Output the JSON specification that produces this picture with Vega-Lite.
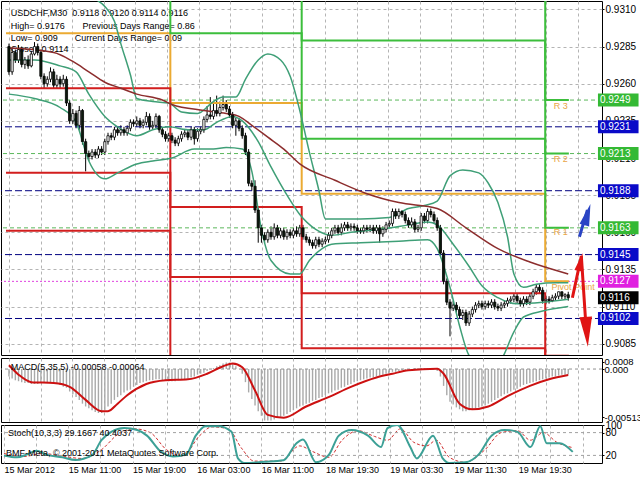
{
"$schema":"https://vega.github.io/schema/vega-lite/v6.json",
"background":"#ffffff",
"padding":0,
"spacing":3,
"bounds":"flush",
"config":{"font":"Liberation Sans","view":{"stroke":"#000000","strokeWidth":1},"axis":{"labelFont":"Liberation Sans","labelColor":"#000000","domain":false,"gridColor":"#b4b4b4","gridDash":[3,3],"tickColor":"#000000","labelOverlap":false,"labelFlush":false}},
"datasets":{
"candles":[
{"i":0,"o":0.9285,"h":0.9287,"l":0.9266,"c":0.9268,"m":-0.0008},
{"i":1,"o":0.9268,"h":0.9284,"l":0.9266,"c":0.9281,"m":-0.0010},
{"i":2,"o":0.9281,"h":0.9283,"l":0.9274,"c":0.9276,"m":-0.0012},
{"i":3,"o":0.9276,"h":0.9286,"l":0.9274,"c":0.9283,"m":-0.0013},
{"i":4,"o":0.9283,"h":0.9285,"l":0.9271,"c":0.9273,"m":-0.0014},
{"i":5,"o":0.9273,"h":0.9278,"l":0.9270,"c":0.9276,"m":-0.0015},
{"i":6,"o":0.9276,"h":0.9279,"l":0.9270,"c":0.9272,"m":-0.0015},
{"i":7,"o":0.9272,"h":0.9282,"l":0.9271,"c":0.9280,"m":-0.0016},
{"i":8,"o":0.9280,"h":0.9288,"l":0.9279,"c":0.9285,"m":-0.0016},
{"i":9,"o":0.9285,"h":0.9287,"l":0.9279,"c":0.9281,"m":-0.0016},
{"i":10,"o":0.9281,"h":0.9283,"l":0.9263,"c":0.9265,"m":-0.0015},
{"i":11,"o":0.9265,"h":0.9267,"l":0.9257,"c":0.9260,"m":-0.0015},
{"i":12,"o":0.9260,"h":0.9265,"l":0.9258,"c":0.9263,"m":-0.0015},
{"i":13,"o":0.9263,"h":0.9271,"l":0.9261,"c":0.9268,"m":-0.0014},
{"i":14,"o":0.9268,"h":0.9270,"l":0.9257,"c":0.9259,"m":-0.0014},
{"i":15,"o":0.9259,"h":0.9266,"l":0.9257,"c":0.9263,"m":-0.0015},
{"i":16,"o":0.9263,"h":0.9265,"l":0.9257,"c":0.9260,"m":-0.0017},
{"i":17,"o":0.9260,"h":0.9266,"l":0.9258,"c":0.9263,"m":-0.0019},
{"i":18,"o":0.9263,"h":0.9265,"l":0.9245,"c":0.9247,"m":-0.0020},
{"i":19,"o":0.9247,"h":0.9249,"l":0.9233,"c":0.9235,"m":-0.0024},
{"i":20,"o":0.9235,"h":0.9243,"l":0.9233,"c":0.9240,"m":-0.0027},
{"i":21,"o":0.9240,"h":0.9242,"l":0.9230,"c":0.9232,"m":-0.0030},
{"i":22,"o":0.9232,"h":0.9245,"l":0.9229,"c":0.9242,"m":-0.0033},
{"i":23,"o":0.9242,"h":0.9243,"l":0.9219,"c":0.9221,"m":-0.0037},
{"i":24,"o":0.9221,"h":0.9223,"l":0.9201,"c":0.9213,"m":-0.0040},
{"i":25,"o":0.9213,"h":0.9215,"l":0.9208,"c":0.9211,"m":-0.0042},
{"i":26,"o":0.9211,"h":0.9216,"l":0.9209,"c":0.9214,"m":-0.0044},
{"i":27,"o":0.9214,"h":0.9216,"l":0.9210,"c":0.9212,"m":-0.0046},
{"i":28,"o":0.9212,"h":0.9218,"l":0.9210,"c":0.9216,"m":-0.0047},
{"i":29,"o":0.9216,"h":0.9218,"l":0.9212,"c":0.9214,"m":-0.0047},
{"i":30,"o":0.9214,"h":0.9223,"l":0.9212,"c":0.9221,"m":-0.0044},
{"i":31,"o":0.9221,"h":0.9227,"l":0.9219,"c":0.9225,"m":-0.0040},
{"i":32,"o":0.9225,"h":0.9227,"l":0.9222,"c":0.9224,"m":-0.0037},
{"i":33,"o":0.9224,"h":0.9231,"l":0.9222,"c":0.9229,"m":-0.0033},
{"i":34,"o":0.9229,"h":0.9231,"l":0.9225,"c":0.9227,"m":-0.0030},
{"i":35,"o":0.9227,"h":0.9232,"l":0.9225,"c":0.9229,"m":-0.0028},
{"i":36,"o":0.9229,"h":0.9231,"l":0.9225,"c":0.9227,"m":-0.0025},
{"i":37,"o":0.9227,"h":0.9232,"l":0.9225,"c":0.9230,"m":-0.0023},
{"i":38,"o":0.9230,"h":0.9236,"l":0.9228,"c":0.9234,"m":-0.0022},
{"i":39,"o":0.9234,"h":0.9236,"l":0.9231,"c":0.9233,"m":-0.0019},
{"i":40,"o":0.9233,"h":0.9238,"l":0.9231,"c":0.9235,"m":-0.0017},
{"i":41,"o":0.9235,"h":0.9237,"l":0.9230,"c":0.9232,"m":-0.0015},
{"i":42,"o":0.9232,"h":0.9236,"l":0.9230,"c":0.9234,"m":-0.0014},
{"i":43,"o":0.9234,"h":0.9241,"l":0.9232,"c":0.9238,"m":-0.0013},
{"i":44,"o":0.9238,"h":0.9240,"l":0.9229,"c":0.9231,"m":-0.0012},
{"i":45,"o":0.9231,"h":0.9235,"l":0.9229,"c":0.9232,"m":-0.0012},
{"i":46,"o":0.9232,"h":0.9240,"l":0.9230,"c":0.9238,"m":-0.0011},
{"i":47,"o":0.9238,"h":0.9239,"l":0.9227,"c":0.9229,"m":-0.0011},
{"i":48,"o":0.9229,"h":0.9231,"l":0.9224,"c":0.9226,"m":-0.0012},
{"i":49,"o":0.9226,"h":0.9228,"l":0.9221,"c":0.9223,"m":-0.0012},
{"i":50,"o":0.9223,"h":0.9227,"l":0.9221,"c":0.9225,"m":-0.0013},
{"i":51,"o":0.9225,"h":0.9227,"l":0.9220,"c":0.9222,"m":-0.0013},
{"i":52,"o":0.9222,"h":0.9224,"l":0.9218,"c":0.9220,"m":-0.0013},
{"i":53,"o":0.9220,"h":0.9225,"l":0.9218,"c":0.9223,"m":-0.0012},
{"i":54,"o":0.9223,"h":0.9228,"l":0.9221,"c":0.9226,"m":-0.0011},
{"i":55,"o":0.9226,"h":0.9229,"l":0.9224,"c":0.9227,"m":-0.0011},
{"i":56,"o":0.9227,"h":0.9229,"l":0.9222,"c":0.9224,"m":-0.0010},
{"i":57,"o":0.9224,"h":0.9231,"l":0.9222,"c":0.9229,"m":-0.0009},
{"i":58,"o":0.9229,"h":0.9231,"l":0.9219,"c":0.9223,"m":-0.0008},
{"i":59,"o":0.9223,"h":0.9230,"l":0.9221,"c":0.9228,"m":-0.0006},
{"i":60,"o":0.9228,"h":0.9231,"l":0.9226,"c":0.9229,"m":-0.0005},
{"i":61,"o":0.9229,"h":0.9238,"l":0.9227,"c":0.9236,"m":-0.0004},
{"i":62,"o":0.9236,"h":0.9245,"l":0.9234,"c":0.9239,"m":-0.0002},
{"i":63,"o":0.9239,"h":0.9251,"l":0.9236,"c":0.9238,"m":0.0000},
{"i":64,"o":0.9238,"h":0.9247,"l":0.9236,"c":0.9242,"m":0.0001},
{"i":65,"o":0.9242,"h":0.9252,"l":0.9238,"c":0.9240,"m":0.0003},
{"i":66,"o":0.9240,"h":0.9248,"l":0.9238,"c":0.9244,"m":0.0004},
{"i":67,"o":0.9244,"h":0.9252,"l":0.9242,"c":0.9246,"m":0.0006},
{"i":68,"o":0.9246,"h":0.9249,"l":0.9241,"c":0.9243,"m":0.0007},
{"i":69,"o":0.9243,"h":0.9245,"l":0.9237,"c":0.9239,"m":0.0007},
{"i":70,"o":0.9239,"h":0.9241,"l":0.9230,"c":0.9232,"m":0.0006},
{"i":71,"o":0.9232,"h":0.9237,"l":0.9225,"c":0.9235,"m":0.0003},
{"i":72,"o":0.9235,"h":0.9237,"l":0.9228,"c":0.9230,"m":0.0000},
{"i":73,"o":0.9230,"h":0.9232,"l":0.9223,"c":0.9225,"m":-0.0005},
{"i":74,"o":0.9225,"h":0.9227,"l":0.9212,"c":0.9214,"m":-0.0014},
{"i":75,"o":0.9214,"h":0.9216,"l":0.9191,"c":0.9193,"m":-0.0025},
{"i":76,"o":0.9193,"h":0.9195,"l":0.9188,"c":0.9191,"m":-0.0032},
{"i":77,"o":0.9191,"h":0.9195,"l":0.9173,"c":0.9175,"m":-0.0039},
{"i":78,"o":0.9175,"h":0.9177,"l":0.9153,"c":0.9163,"m":-0.0045},
{"i":79,"o":0.9163,"h":0.9165,"l":0.9153,"c":0.9158,"m":-0.0050},
{"i":80,"o":0.9158,"h":0.9160,"l":0.9153,"c":0.9155,"m":-0.0055},
{"i":81,"o":0.9155,"h":0.9162,"l":0.9153,"c":0.9160,"m":-0.0055},
{"i":82,"o":0.9160,"h":0.9164,"l":0.9155,"c":0.9157,"m":-0.0055},
{"i":83,"o":0.9157,"h":0.9166,"l":0.9155,"c":0.9163,"m":-0.0054},
{"i":84,"o":0.9163,"h":0.9165,"l":0.9156,"c":0.9158,"m":-0.0052},
{"i":85,"o":0.9158,"h":0.9163,"l":0.9156,"c":0.9161,"m":-0.0051},
{"i":86,"o":0.9161,"h":0.9163,"l":0.9155,"c":0.9157,"m":-0.0050},
{"i":87,"o":0.9157,"h":0.9162,"l":0.9155,"c":0.9160,"m":-0.0048},
{"i":88,"o":0.9160,"h":0.9162,"l":0.9156,"c":0.9158,"m":-0.0046},
{"i":89,"o":0.9158,"h":0.9163,"l":0.9156,"c":0.9161,"m":-0.0044},
{"i":90,"o":0.9161,"h":0.9164,"l":0.9157,"c":0.9159,"m":-0.0042},
{"i":91,"o":0.9159,"h":0.9165,"l":0.9157,"c":0.9163,"m":-0.0040},
{"i":92,"o":0.9163,"h":0.9165,"l":0.9155,"c":0.9157,"m":-0.0039},
{"i":93,"o":0.9157,"h":0.9159,"l":0.9153,"c":0.9155,"m":-0.0037},
{"i":94,"o":0.9155,"h":0.9157,"l":0.9151,"c":0.9153,"m":-0.0036},
{"i":95,"o":0.9153,"h":0.9155,"l":0.9149,"c":0.9151,"m":-0.0034},
{"i":96,"o":0.9151,"h":0.9157,"l":0.9149,"c":0.9155,"m":-0.0033},
{"i":97,"o":0.9155,"h":0.9157,"l":0.9150,"c":0.9152,"m":-0.0031},
{"i":98,"o":0.9152,"h":0.9156,"l":0.9150,"c":0.9154,"m":-0.0030},
{"i":99,"o":0.9154,"h":0.9157,"l":0.9152,"c":0.9155,"m":-0.0028},
{"i":100,"o":0.9155,"h":0.9160,"l":0.9153,"c":0.9158,"m":-0.0026},
{"i":101,"o":0.9158,"h":0.9163,"l":0.9156,"c":0.9161,"m":-0.0025},
{"i":102,"o":0.9161,"h":0.9165,"l":0.9159,"c":0.9163,"m":-0.0023},
{"i":103,"o":0.9163,"h":0.9165,"l":0.9158,"c":0.9160,"m":-0.0022},
{"i":104,"o":0.9160,"h":0.9166,"l":0.9158,"c":0.9163,"m":-0.0020},
{"i":105,"o":0.9163,"h":0.9167,"l":0.9161,"c":0.9165,"m":-0.0019},
{"i":106,"o":0.9165,"h":0.9167,"l":0.9161,"c":0.9163,"m":-0.0017},
{"i":107,"o":0.9163,"h":0.9166,"l":0.9161,"c":0.9164,"m":-0.0016},
{"i":108,"o":0.9164,"h":0.9166,"l":0.9161,"c":0.9163,"m":-0.0014},
{"i":109,"o":0.9163,"h":0.9165,"l":0.9159,"c":0.9161,"m":-0.0013},
{"i":110,"o":0.9161,"h":0.9163,"l":0.9159,"c":0.9161,"m":-0.0012},
{"i":111,"o":0.9161,"h":0.9165,"l":0.9159,"c":0.9163,"m":-0.0011},
{"i":112,"o":0.9163,"h":0.9165,"l":0.9160,"c":0.9162,"m":-0.0010},
{"i":113,"o":0.9162,"h":0.9165,"l":0.9160,"c":0.9163,"m":-0.0009},
{"i":114,"o":0.9163,"h":0.9165,"l":0.9159,"c":0.9161,"m":-0.0009},
{"i":115,"o":0.9161,"h":0.9165,"l":0.9159,"c":0.9163,"m":-0.0008},
{"i":116,"o":0.9163,"h":0.9165,"l":0.9153,"c":0.9159,"m":-0.0007},
{"i":117,"o":0.9159,"h":0.9164,"l":0.9157,"c":0.9162,"m":-0.0006},
{"i":118,"o":0.9162,"h":0.9167,"l":0.9160,"c":0.9165,"m":-0.0005},
{"i":119,"o":0.9165,"h":0.9168,"l":0.9163,"c":0.9166,"m":-0.0004},
{"i":120,"o":0.9166,"h":0.9176,"l":0.9164,"c":0.9174,"m":-0.0003},
{"i":121,"o":0.9174,"h":0.9176,"l":0.9169,"c":0.9171,"m":-0.0003},
{"i":122,"o":0.9171,"h":0.9176,"l":0.9169,"c":0.9174,"m":-0.0002},
{"i":123,"o":0.9174,"h":0.9175,"l":0.9170,"c":0.9172,"m":-0.0001},
{"i":124,"o":0.9172,"h":0.9174,"l":0.9166,"c":0.9168,"m":-0.0001},
{"i":125,"o":0.9168,"h":0.9170,"l":0.9163,"c":0.9165,"m":0.0000},
{"i":126,"o":0.9165,"h":0.9170,"l":0.9163,"c":0.9167,"m":0.0000},
{"i":127,"o":0.9167,"h":0.9169,"l":0.9160,"c":0.9162,"m":0.0001},
{"i":128,"o":0.9162,"h":0.9165,"l":0.9160,"c":0.9163,"m":0.0001},
{"i":129,"o":0.9163,"h":0.9173,"l":0.9161,"c":0.9171,"m":0.0001},
{"i":130,"o":0.9171,"h":0.9173,"l":0.9166,"c":0.9168,"m":0.0001},
{"i":131,"o":0.9168,"h":0.9176,"l":0.9166,"c":0.9174,"m":0.0001},
{"i":132,"o":0.9174,"h":0.9176,"l":0.9170,"c":0.9172,"m":0.0001},
{"i":133,"o":0.9172,"h":0.9174,"l":0.9166,"c":0.9168,"m":0.0001},
{"i":134,"o":0.9168,"h":0.9170,"l":0.9161,"c":0.9163,"m":-0.0002},
{"i":135,"o":0.9163,"h":0.9165,"l":0.9144,"c":0.9146,"m":-0.0008},
{"i":136,"o":0.9146,"h":0.9148,"l":0.9125,"c":0.9127,"m":-0.0018},
{"i":137,"o":0.9127,"h":0.9129,"l":0.9111,"c":0.9113,"m":-0.0028},
{"i":138,"o":0.9113,"h":0.9115,"l":0.9090,"c":0.9109,"m":-0.0035},
{"i":139,"o":0.9109,"h":0.9114,"l":0.9107,"c":0.9111,"m":-0.0038},
{"i":140,"o":0.9111,"h":0.9113,"l":0.9106,"c":0.9108,"m":-0.0041},
{"i":141,"o":0.9108,"h":0.9110,"l":0.9102,"c":0.9104,"m":-0.0043},
{"i":142,"o":0.9104,"h":0.9108,"l":0.9101,"c":0.9106,"m":-0.0045},
{"i":143,"o":0.9106,"h":0.9108,"l":0.9097,"c":0.9099,"m":-0.0045},
{"i":144,"o":0.9099,"h":0.9107,"l":0.9097,"c":0.9105,"m":-0.0044},
{"i":145,"o":0.9105,"h":0.9110,"l":0.9103,"c":0.9108,"m":-0.0043},
{"i":146,"o":0.9108,"h":0.9113,"l":0.9106,"c":0.9111,"m":-0.0042},
{"i":147,"o":0.9111,"h":0.9114,"l":0.9109,"c":0.9112,"m":-0.0041},
{"i":148,"o":0.9112,"h":0.9114,"l":0.9108,"c":0.9110,"m":-0.0040},
{"i":149,"o":0.9110,"h":0.9114,"l":0.9108,"c":0.9112,"m":-0.0039},
{"i":150,"o":0.9112,"h":0.9114,"l":0.9109,"c":0.9111,"m":-0.0037},
{"i":151,"o":0.9111,"h":0.9115,"l":0.9109,"c":0.9113,"m":-0.0035},
{"i":152,"o":0.9113,"h":0.9115,"l":0.9108,"c":0.9110,"m":-0.0033},
{"i":153,"o":0.9110,"h":0.9112,"l":0.9107,"c":0.9109,"m":-0.0031},
{"i":154,"o":0.9109,"h":0.9113,"l":0.9107,"c":0.9111,"m":-0.0029},
{"i":155,"o":0.9111,"h":0.9114,"l":0.9109,"c":0.9112,"m":-0.0027},
{"i":156,"o":0.9112,"h":0.9116,"l":0.9110,"c":0.9114,"m":-0.0026},
{"i":157,"o":0.9114,"h":0.9117,"l":0.9112,"c":0.9115,"m":-0.0024},
{"i":158,"o":0.9115,"h":0.9119,"l":0.9113,"c":0.9117,"m":-0.0022},
{"i":159,"o":0.9117,"h":0.9119,"l":0.9112,"c":0.9114,"m":-0.0021},
{"i":160,"o":0.9114,"h":0.9116,"l":0.9110,"c":0.9112,"m":-0.0019},
{"i":161,"o":0.9112,"h":0.9117,"l":0.9110,"c":0.9115,"m":-0.0017},
{"i":162,"o":0.9115,"h":0.9117,"l":0.9111,"c":0.9113,"m":-0.0016},
{"i":163,"o":0.9113,"h":0.9119,"l":0.9111,"c":0.9117,"m":-0.0015},
{"i":164,"o":0.9117,"h":0.9122,"l":0.9115,"c":0.9120,"m":-0.0014},
{"i":165,"o":0.9120,"h":0.9125,"l":0.9118,"c":0.9123,"m":-0.0013},
{"i":166,"o":0.9123,"h":0.9125,"l":0.9119,"c":0.9121,"m":-0.0012},
{"i":167,"o":0.9121,"h":0.9123,"l":0.9112,"c":0.9114,"m":-0.0011},
{"i":168,"o":0.9114,"h":0.9117,"l":0.9112,"c":0.9115,"m":-0.0010},
{"i":169,"o":0.9115,"h":0.9117,"l":0.9112,"c":0.9114,"m":-0.0009},
{"i":170,"o":0.9114,"h":0.9118,"l":0.9113,"c":0.9116,"m":-0.0008},
{"i":171,"o":0.9116,"h":0.9119,"l":0.9114,"c":0.9117,"m":-0.0008},
{"i":172,"o":0.9117,"h":0.9120,"l":0.9115,"c":0.9120,"m":-0.0007},
{"i":173,"o":0.9120,"h":0.9120,"l":0.9115,"c":0.9117,"m":-0.0006},
{"i":174,"o":0.9117,"h":0.9119,"l":0.9115,"c":0.9118,"m":-0.0006},
{"i":175,"o":0.9118,"h":0.9120,"l":0.9114,"c":0.9116,"m":-0.00058}
],
"bb":[
{"s":"up","i":0,"p":0.9318},{"s":"up","i":10,"p":0.9322},{"s":"up","i":20,"p":0.9322},{"s":"up","i":27,"p":0.9317},{"s":"up","i":30,"p":0.9312},{"s":"up","i":33,"p":0.9302},{"s":"up","i":35,"p":0.9287},{"s":"up","i":38,"p":0.9266},{"s":"up","i":40,"p":0.9250},{"s":"up","i":45,"p":0.9248},{"s":"up","i":50,"p":0.9247},{"s":"up","i":54,"p":0.9241},{"s":"up","i":59,"p":0.9240},{"s":"up","i":64,"p":0.9248},{"s":"up","i":67,"p":0.9251},{"s":"up","i":71,"p":0.9251},{"s":"up","i":74,"p":0.9263},{"s":"up","i":78,"p":0.9276},{"s":"up","i":81,"p":0.9280},{"s":"up","i":85,"p":0.9276},{"s":"up","i":88,"p":0.9265},{"s":"up","i":91,"p":0.9242},{"s":"up","i":94,"p":0.9214},{"s":"up","i":97,"p":0.9188},{"s":"up","i":99,"p":0.9169},{"s":"up","i":104,"p":0.9169},{"s":"up","i":110,"p":0.9169},{"s":"up","i":119,"p":0.9170},{"s":"up","i":125,"p":0.9176},{"s":"up","i":130,"p":0.9178},{"s":"up","i":134,"p":0.9181},{"s":"up","i":138,"p":0.9198},{"s":"up","i":142,"p":0.9202},{"s":"up","i":147,"p":0.9200},{"s":"up","i":150,"p":0.9193},{"s":"up","i":153,"p":0.9180},{"s":"up","i":156,"p":0.9157},{"s":"up","i":158,"p":0.9132},{"s":"up","i":161,"p":0.9123},{"s":"up","i":165,"p":0.9125},{"s":"up","i":171,"p":0.9126},{"s":"up","i":175,"p":0.9126},
{"s":"mid","i":0,"p":0.9276},{"s":"mid","i":8,"p":0.9276},{"s":"mid","i":16,"p":0.9272},{"s":"mid","i":21,"p":0.9268},{"s":"mid","i":25,"p":0.9253},{"s":"mid","i":30,"p":0.9238},{"s":"mid","i":34,"p":0.9231},{"s":"mid","i":40,"p":0.9225},{"s":"mid","i":45,"p":0.9229},{"s":"mid","i":50,"p":0.9231},{"s":"mid","i":56,"p":0.9229},{"s":"mid","i":61,"p":0.9229},{"s":"mid","i":65,"p":0.9234},{"s":"mid","i":70,"p":0.9238},{"s":"mid","i":73,"p":0.9235},{"s":"mid","i":78,"p":0.9221},{"s":"mid","i":82,"p":0.9204},{"s":"mid","i":87,"p":0.9185},{"s":"mid","i":91,"p":0.9172},{"s":"mid","i":96,"p":0.9162},{"s":"mid","i":101,"p":0.9158},{"s":"mid","i":107,"p":0.9160},{"s":"mid","i":116,"p":0.9162},{"s":"mid","i":125,"p":0.9165},{"s":"mid","i":131,"p":0.9167},{"s":"mid","i":134,"p":0.9165},{"s":"mid","i":139,"p":0.9152},{"s":"mid","i":144,"p":0.9137},{"s":"mid","i":148,"p":0.9124},{"s":"mid","i":153,"p":0.9116},{"s":"mid","i":159,"p":0.9112},{"s":"mid","i":167,"p":0.9113},{"s":"mid","i":175,"p":0.9115},
{"s":"lo","i":0,"p":0.9253},{"s":"lo","i":8,"p":0.9250},{"s":"lo","i":16,"p":0.9244},{"s":"lo","i":21,"p":0.9234},{"s":"lo","i":25,"p":0.9208},{"s":"lo","i":30,"p":0.9196},{"s":"lo","i":34,"p":0.9200},{"s":"lo","i":40,"p":0.9206},{"s":"lo","i":45,"p":0.9208},{"s":"lo","i":51,"p":0.9210},{"s":"lo","i":58,"p":0.9216},{"s":"lo","i":64,"p":0.9216},{"s":"lo","i":68,"p":0.9217},{"s":"lo","i":73,"p":0.9216},{"s":"lo","i":76,"p":0.9201},{"s":"lo","i":79,"p":0.9162},{"s":"lo","i":82,"p":0.9141},{"s":"lo","i":88,"p":0.9132},{"s":"lo","i":91,"p":0.9132},{"s":"lo","i":94,"p":0.9141},{"s":"lo","i":98,"p":0.9149},{"s":"lo","i":101,"p":0.9152},{"s":"lo","i":110,"p":0.9153},{"s":"lo","i":122,"p":0.9154},{"s":"lo","i":131,"p":0.9155},{"s":"lo","i":134,"p":0.9149},{"s":"lo","i":138,"p":0.9123},{"s":"lo","i":141,"p":0.9097},{"s":"lo","i":144,"p":0.9077},{"s":"lo","i":150,"p":0.9067},{"s":"lo","i":154,"p":0.9074},{"s":"lo","i":158,"p":0.9093},{"s":"lo","i":161,"p":0.9103},{"s":"lo","i":167,"p":0.9107},{"s":"lo","i":175,"p":0.9110},
{"s":"ma","i":0,"p":0.9284},{"s":"ma","i":14,"p":0.9281},{"s":"ma","i":20,"p":0.9275},{"s":"ma","i":25,"p":0.9268},{"s":"ma","i":30,"p":0.9261},{"s":"ma","i":35,"p":0.9257},{"s":"ma","i":40,"p":0.9253},{"s":"ma","i":48,"p":0.9249},{"s":"ma","i":51,"p":0.9246},{"s":"ma","i":61,"p":0.9242},{"s":"ma","i":68,"p":0.9240},{"s":"ma","i":72,"p":0.9238},{"s":"ma","i":76,"p":0.9232},{"s":"ma","i":81,"p":0.9224},{"s":"ma","i":86,"p":0.9216},{"s":"ma","i":91,"p":0.9206},{"s":"ma","i":102,"p":0.9195},{"s":"ma","i":112,"p":0.9186},{"s":"ma","i":122,"p":0.9180},{"s":"ma","i":134,"p":0.9176},{"s":"ma","i":143,"p":0.9163},{"s":"ma","i":153,"p":0.9149},{"s":"ma","i":163,"p":0.9140},{"s":"ma","i":175,"p":0.9132}
],
"piv":[
{"s":"P","i":-0.92,"p":0.9294},{"s":"P","i":50.5,"p":0.9247},{"s":"P","i":91.6,"p":0.9186},{"s":"P","i":167.8,"p":0.9127},{"s":"P","i":175.2,"p":0.9127},
{"s":"R1","i":-0.92,"p":0.9351},{"s":"R1","i":50.5,"p":0.9294},{"s":"R1","i":91.6,"p":0.9223},{"s":"R1","i":167.8,"p":0.9163},{"s":"R1","i":175.2,"p":0.9163},
{"s":"R2","i":-0.92,"p":0.9400},{"s":"R2","i":50.5,"p":0.9364},{"s":"R2","i":91.6,"p":0.9289},{"s":"R2","i":167.8,"p":0.9213},{"s":"R2","i":175.2,"p":0.9213},
{"s":"R3","i":-0.92,"p":0.9420},{"s":"R3","i":50.5,"p":0.9440},{"s":"R3","i":91.6,"p":0.9327},{"s":"R3","i":167.8,"p":0.9249},{"s":"R3","i":175.2,"p":0.9249},
{"s":"S1","i":-0.92,"p":0.9257},{"s":"S1","i":50.5,"p":0.9177},{"s":"S1","i":91.6,"p":0.9119},{"s":"S1","i":167.8,"p":0.9077},{"s":"S1","i":175.2,"p":0.9077},
{"s":"S2","i":-0.92,"p":0.9200},{"s":"S2","i":50.5,"p":0.9130},{"s":"S2","i":91.6,"p":0.9082},{"s":"S2","i":167.8,"p":0.9041},{"s":"S2","i":175.2,"p":0.9041},
{"s":"S3","i":-0.92,"p":0.9161},{"s":"S3","i":50.5,"p":0.9060},{"s":"S3","i":91.6,"p":0.9015},{"s":"S3","i":167.8,"p":0.8995},{"s":"S3","i":175.2,"p":0.8995}
],
"tags":[
{"p":0.9249,"t":"0.9249","k":"r"},{"p":0.9231,"t":"0.9231","k":"m"},{"p":0.9213,"t":"0.9213","k":"r"},{"p":0.9188,"t":"0.9188","k":"m"},{"p":0.9163,"t":"0.9163","k":"r"},{"p":0.9145,"t":"0.9145","k":"m"},{"p":0.9127,"t":"0.9127","k":"p"},{"p":0.9116,"t":"0.9116","k":"c"},{"p":0.9102,"t":"0.9102","k":"m"}
],
"hdr":[
{"i":0.6,"p":0.93077,"t":"USDCHF,M30\u00a0\u00a00.9118 0.9120 0.9114 0.9116"},
{"i":0.6,"p":0.92986,"t":"High= 0.9176"},
{"i":23,"p":0.92986,"t":"Previous Days Range= 0.86"},
{"i":0.6,"p":0.92907,"t":"Low= 0.909"},
{"i":20.6,"p":0.92907,"t":"Current Days Range= 0.09"},
{"i":0.6,"p":0.92835,"t":"Close= 0.9114"}
],
"plab":[
{"i":170.5,"p":0.9245,"t":"R 3"},{"i":170.5,"p":0.9209,"t":"R 2"},{"i":170.5,"p":0.9160,"t":"R 1"},{"i":169.8,"p":0.9123,"t":"Pivot Point"}
],
"arrB":[{"i":178.5,"p":0.9157},{"i":181,"p":0.9175}],
"arrR":[{"i":176.3,"p":0.9116},{"i":179.1,"p":0.9144},{"i":180.6,"p":0.9095}],
"sig":[
{"i":0,"v":0.0004},{"i":3,"v":-0.0006},{"i":7,"v":-0.0014},{"i":14,"v":-0.0015},{"i":19,"v":-0.0019},{"i":24,"v":-0.0033},{"i":29,"v":-0.0045},{"i":31,"v":-0.0045},{"i":34,"v":-0.0037},{"i":37,"v":-0.0028},{"i":43,"v":-0.0016},{"i":49,"v":-0.0012},{"i":56,"v":-0.0011},{"i":62,"v":-0.0005},{"i":67,"v":0.0003},{"i":70,"v":0.0006},{"i":73,"v":0.0002},{"i":77,"v":-0.0023},{"i":81,"v":-0.0049},{"i":86,"v":-0.0052},{"i":93,"v":-0.0040},{"i":100,"v":-0.0030},{"i":107,"v":-0.0019},{"i":115,"v":-0.0009},{"i":120,"v":-0.0005},{"i":125,"v":-0.00014},{"i":134,"v":0.00004},{"i":136,"v":-0.0005},{"i":141,"v":-0.0037},{"i":145,"v":-0.0043},{"i":150,"v":-0.0040},{"i":156,"v":-0.0029},{"i":163,"v":-0.0018},{"i":169,"v":-0.0011},{"i":175,"v":-0.00064}
],
"stk":[
{"i":0,"v":20},{"i":4,"v":15},{"i":7,"v":22},{"i":10,"v":32},{"i":13,"v":22},{"i":18,"v":15},{"i":22,"v":8},{"i":27,"v":20},{"i":30,"v":60},{"i":33,"v":82},{"i":37,"v":92},{"i":41,"v":87},{"i":44,"v":72},{"i":48,"v":32},{"i":52,"v":17},{"i":56,"v":22},{"i":59,"v":72},{"i":62,"v":97},{"i":66,"v":97},{"i":70,"v":82},{"i":72,"v":12},{"i":74,"v":0},{"i":80,"v":3},{"i":86,"v":7},{"i":90,"v":52},{"i":92,"v":62},{"i":96,"v":2},{"i":100,"v":22},{"i":103,"v":72},{"i":107,"v":87},{"i":112,"v":72},{"i":116,"v":42},{"i":118,"v":92},{"i":121,"v":100},{"i":125,"v":42},{"i":127,"v":12},{"i":132,"v":72},{"i":135,"v":12},{"i":137,"v":0},{"i":142,"v":2},{"i":146,"v":22},{"i":150,"v":72},{"i":154,"v":87},{"i":158,"v":82},{"i":162,"v":42},{"i":165,"v":97},{"i":167,"v":52},{"i":171,"v":52},{"i":175,"v":29.17}
],
"std":[
{"i":0,"v":25},{"i":6,"v":17},{"i":12,"v":25},{"i":18,"v":18},{"i":24,"v":12},{"i":30,"v":35},{"i":35,"v":75},{"i":40,"v":90},{"i":45,"v":80},{"i":50,"v":35},{"i":55,"v":18},{"i":60,"v":70},{"i":64,"v":95},{"i":69,"v":90},{"i":73,"v":40},{"i":77,"v":5},{"i":85,"v":5},{"i":91,"v":45},{"i":95,"v":30},{"i":100,"v":15},{"i":104,"v":60},{"i":109,"v":85},{"i":114,"v":70},{"i":118,"v":60},{"i":122,"v":90},{"i":126,"v":55},{"i":130,"v":45},{"i":133,"v":60},{"i":137,"v":15},{"i":142,"v":2},{"i":148,"v":35},{"i":153,"v":80},{"i":158,"v":85},{"i":162,"v":60},{"i":166,"v":80},{"i":170,"v":55},{"i":175,"v":40.4}
]
},
"vconcat":[
{"width":601,"height":354,
"layer":[
{"data":{"name":"candles"},"mark":{"type":"rule","color":"#000000","strokeWidth":1},
"encoding":{"x":{"field":"i","type":"quantitative","scale":{"domain":[-0.92,184],"nice":false,"zero":false},"axis":{"values":[0,9.89,19.78,29.67,39.56,49.45,59.34,69.23,79.12,89.01,98.9,108.79,118.68,128.57,138.46,148.35,158.24,168.13,178.02],"tickCount":40,"labels":false,"ticks":false,"grid":true,"title":null}},
"y":{"field":"l","type":"quantitative","scale":{"domain":[0.90808,0.93123],"nice":false,"zero":false},"axis":{"orient":"right","values":[0.9085,0.911,0.9135,0.916,0.9185,0.921,0.9235,0.926,0.9285,0.931],"tickCount":20,"format":".4f","title":null,"grid":true,"ticks":true,"tickSize":2,"labelFontSize":10,"labelPadding":1,"labelOverlap":false}},"y2":{"field":"h"}}},
{"data":{"name":"tags"},"transform":[{"filter":"datum.k != 'c'"}],"mark":{"type":"rule","strokeWidth":1},
"encoding":{"y":{"field":"p","type":"quantitative","scale":{"domain":[0.90808,0.93123],"nice":false,"zero":false}},
"stroke":{"field":"k","type":"nominal","scale":{"domain":["r","m","p"],"range":["#5cb85c","#000080","#e040e0"]},"legend":null},
"strokeDash":{"field":"k","type":"nominal","scale":{"domain":["r","m","p"],"range":[[4,3],[7,3],[2,2]]},"legend":null}}},
{"data":{"name":"hdr"},"mark":{"type":"text","align":"left","baseline":"middle","fontSize":9,"color":"#000000"},
"encoding":{"x":{"field":"i","type":"quantitative","scale":{"domain":[-0.92,184],"nice":false,"zero":false}},
"y":{"field":"p","type":"quantitative","scale":{"domain":[0.90808,0.93123],"nice":false,"zero":false}},"text":{"field":"t"}}},
{"data":{"name":"piv"},"mark":{"type":"line","interpolate":"step-after","strokeWidth":2,"clip":true},
"encoding":{"x":{"field":"i","type":"quantitative","scale":{"domain":[-0.92,184],"nice":false,"zero":false}},
"y":{"field":"p","type":"quantitative","scale":{"domain":[0.90808,0.93123],"nice":false,"zero":false}},
"color":{"field":"s","type":"nominal","scale":{"domain":["P","R1","R2","R3","S1","S2","S3","up","mid","lo","ma"],"range":["#ebaa32","#3cbe3c","#3cbe3c","#3cbe3c","#d21e1e","#d21e1e","#d21e1e","#3f9f77","#3f9f77","#3f9f77","#8c2d2d"]},"legend":null}}},
{"data":{"name":"bb"},"mark":{"type":"line","interpolate":"monotone","strokeWidth":1.5,"clip":true},
"encoding":{"x":{"field":"i","type":"quantitative","scale":{"domain":[-0.92,184],"nice":false,"zero":false}},
"y":{"field":"p","type":"quantitative","scale":{"domain":[0.90808,0.93123],"nice":false,"zero":false}},
"color":{"field":"s","type":"nominal","scale":{"domain":["P","R1","R2","R3","S1","S2","S3","up","mid","lo","ma"],"range":["#ebaa32","#3cbe3c","#3cbe3c","#3cbe3c","#d21e1e","#d21e1e","#d21e1e","#3f9f77","#3f9f77","#3f9f77","#8c2d2d"]},"legend":null}}},
{"data":{"name":"candles"},"mark":{"type":"bar","width":2.2,"stroke":"#000000","strokeWidth":0.8},
"encoding":{"x":{"field":"i","type":"quantitative","scale":{"domain":[-0.92,184],"nice":false,"zero":false}},
"y":{"field":"o","type":"quantitative","scale":{"domain":[0.90808,0.93123],"nice":false,"zero":false}},"y2":{"field":"c"},
"fill":{"condition":{"test":"datum.c < datum.o","value":"#0c1a0c"},"value":"#ffffff"}}},
{"data":{"name":"plab"},"mark":{"type":"text","align":"left","baseline":"middle","fontSize":9,"color":"#e9a545","clip":true},
"encoding":{"x":{"field":"i","type":"quantitative","scale":{"domain":[-0.92,184],"nice":false,"zero":false}},
"y":{"field":"p","type":"quantitative","scale":{"domain":[0.90808,0.93123],"nice":false,"zero":false}},"text":{"field":"t"}}},
{"data":{"name":"arrB"},"mark":{"type":"line","color":"#2a44c4","strokeWidth":3},
"encoding":{"x":{"field":"i","type":"quantitative","scale":{"domain":[-0.92,184],"nice":false,"zero":false}},
"y":{"field":"p","type":"quantitative","scale":{"domain":[0.90808,0.93123],"nice":false,"zero":false}}}},
{"data":{"values":[{"i":181,"p":0.9172}]},"mark":{"type":"point","shape":"M0,-1L0.45,1L-0.45,1Z","filled":true,"color":"#2a44c4","size":484,"angle":16,"opacity":1},
"encoding":{"x":{"field":"i","type":"quantitative","scale":{"domain":[-0.92,184],"nice":false,"zero":false}},
"y":{"field":"p","type":"quantitative","scale":{"domain":[0.90808,0.93123],"nice":false,"zero":false}}}},
{"data":{"name":"arrR"},"mark":{"type":"line","color":"#e01414","strokeWidth":3},
"encoding":{"x":{"field":"i","type":"quantitative","scale":{"domain":[-0.92,184],"nice":false,"zero":false}},
"y":{"field":"p","type":"quantitative","scale":{"domain":[0.90808,0.93123],"nice":false,"zero":false}}}},
{"data":{"values":[{"i":178.9,"p":0.9140}]},"mark":{"type":"point","shape":"M0,-1L0.5,1L-0.5,1Z","filled":true,"color":"#e01414","size":324,"angle":12,"opacity":1},
"encoding":{"x":{"field":"i","type":"quantitative","scale":{"domain":[-0.92,184],"nice":false,"zero":false}},
"y":{"field":"p","type":"quantitative","scale":{"domain":[0.90808,0.93123],"nice":false,"zero":false}}}},
{"data":{"values":[{"i":180.8,"p":0.9093}]},"mark":{"type":"point","shape":"M0,1L0.42,-1L-0.42,-1Z","filled":true,"color":"#e01414","size":900,"angle":-4,"opacity":1},
"encoding":{"x":{"field":"i","type":"quantitative","scale":{"domain":[-0.92,184],"nice":false,"zero":false}},
"y":{"field":"p","type":"quantitative","scale":{"domain":[0.90808,0.93123],"nice":false,"zero":false}}}},
{"data":{"name":"tags"},"mark":{"type":"bar","size":13},
"encoding":{"x":{"datum":184.3,"type":"quantitative","scale":{"domain":[-0.92,184],"nice":false,"zero":false}},"x2":{"datum":197},
"y":{"field":"p","type":"quantitative","scale":{"domain":[0.90808,0.93123],"nice":false,"zero":false}},
"fill":{"field":"k","type":"nominal","scale":{"domain":["r","m","p","c"],"range":["#34b934","#0a0ac8","#e020e0","#000000"]},"legend":null}}},
{"data":{"name":"tags"},"mark":{"type":"text","align":"left","baseline":"middle","fontSize":10,"color":"#ffffff"},
"encoding":{"x":{"datum":184.9,"type":"quantitative","scale":{"domain":[-0.92,184],"nice":false,"zero":false}},
"y":{"field":"p","type":"quantitative","scale":{"domain":[0.90808,0.93123],"nice":false,"zero":false}},"text":{"field":"t"}}}
]},
{"width":601,"height":64,
"layer":[
{"data":{"name":"candles"},"mark":{"type":"bar","width":1.4,"color":"#a9a9a9"},
"encoding":{"x":{"field":"i","type":"quantitative","scale":{"domain":[-0.92,184],"nice":false,"zero":false},"axis":{"values":[0,9.89,19.78,29.67,39.56,49.45,59.34,69.23,79.12,89.01,98.9,108.79,118.68,128.57,138.46,148.35,158.24,168.13,178.02],"tickCount":40,"labels":false,"ticks":false,"grid":true,"title":null}},
"y":{"field":"m","type":"quantitative","scale":{"domain":[-0.00566,0.00118],"nice":false,"zero":false},"axis":{"orient":"right","values":[0.0008,0,-0.00513],"tickCount":10,"labelExpr":"datum.value == 0 ? '0.000' : (datum.value > 0 ? '0.0008' : '-0.00513')","title":null,"grid":false,"ticks":true,"tickSize":2,"labelFontSize":9.5,"labelPadding":0,"labelOverlap":false}},
"y2":{"datum":0}}},
{"data":{"values":[{"v":0}]},"mark":{"type":"rule","color":"#909090","strokeDash":[3,3],"strokeWidth":1},
"encoding":{"y":{"field":"v","type":"quantitative","scale":{"domain":[-0.00566,0.00118],"nice":false,"zero":false}}}},
{"data":{"name":"sig"},"mark":{"type":"line","color":"#cc1111","strokeWidth":2,"interpolate":"monotone"},
"encoding":{"x":{"field":"i","type":"quantitative","scale":{"domain":[-0.92,184],"nice":false,"zero":false}},
"y":{"field":"v","type":"quantitative","scale":{"domain":[-0.00566,0.00118],"nice":false,"zero":false}}}},
{"data":{"values":[{"i":0.6,"v":0.0002,"t":"MACD(5,35,5) -0.00058 -0.00064"}]},"mark":{"type":"text","align":"left","baseline":"middle","fontSize":9,"color":"#000000"},
"encoding":{"x":{"field":"i","type":"quantitative","scale":{"domain":[-0.92,184],"nice":false,"zero":false}},
"y":{"field":"v","type":"quantitative","scale":{"domain":[-0.00566,0.00118],"nice":false,"zero":false}},"text":{"field":"t"}}}
]},
{"width":601,"height":38,
"layer":[
{"data":{"name":"std"},"mark":{"type":"line","color":"#d03030","strokeWidth":1,"strokeDash":[3,2],"interpolate":"monotone"},
"encoding":{"x":{"field":"i","type":"quantitative","scale":{"domain":[-0.92,184],"nice":false,"zero":false},"axis":{"values":[0,9.89,19.78,29.67,39.56,49.45,59.34,69.23,79.12,89.01,98.9,108.79,118.68,128.57,138.46,148.35,158.24,168.13,178.02],"tickCount":40,"labelExpr":"round(datum.value/9.89) % 2 == 0 ? ['15 Mar 2012','15 Mar 11:00','15 Mar 19:00','16 Mar 03:00','16 Mar 11:00','18 Mar 19:30','19 Mar 03:30','19 Mar 11:30','19 Mar 19:30','',''][round(datum.value/9.89)/2] : ''","labelAlign":"left","labelFontSize":9,"labelPadding":2,"labelOverlap":false,"labelFlush":false,"ticks":false,"grid":true,"title":null}},
"y":{"field":"v","type":"quantitative","scale":{"domain":[0,100],"nice":false,"zero":false},"axis":{"orient":"right","values":[100,80,20],"tickCount":10,"title":null,"grid":false,"ticks":true,"tickSize":2,"labelFontSize":10,"labelPadding":1,"labelOverlap":false}}}},
{"data":{"values":[{"v":20},{"v":80}]},"mark":{"type":"rule","color":"#a0a0a0","strokeDash":[3,3],"strokeWidth":1},
"encoding":{"y":{"field":"v","type":"quantitative","scale":{"domain":[0,100],"nice":false,"zero":false}}}},
{"data":{"name":"stk"},"mark":{"type":"line","color":"#3ca096","strokeWidth":2,"interpolate":"monotone","clip":true},
"encoding":{"x":{"field":"i","type":"quantitative","scale":{"domain":[-0.92,184],"nice":false,"zero":false}},
"y":{"field":"v","type":"quantitative","scale":{"domain":[0,100],"nice":false,"zero":false}}}},
{"data":{"values":[{"i":1.2,"v":79,"t":"Stoch(10,3,3) 29.1667 40.4037"},{"i":0.6,"v":26,"t":"BMF-Meta, © 2001-2011 MetaQuotes Software Corp."}]},"mark":{"type":"text","align":"left","baseline":"middle","fontSize":9,"color":"#000000"},
"encoding":{"x":{"field":"i","type":"quantitative","scale":{"domain":[-0.92,184],"nice":false,"zero":false}},
"y":{"field":"v","type":"quantitative","scale":{"domain":[0,100],"nice":false,"zero":false}},"text":{"field":"t"}}}
]}
]
}
